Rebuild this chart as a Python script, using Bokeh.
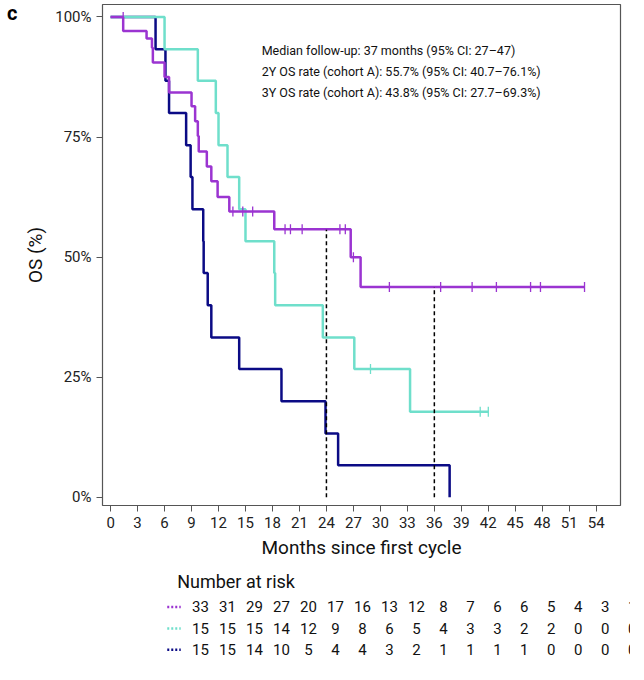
import math
from bokeh.plotting import figure
from bokeh.models import Label, FixedTicker, Range1d, Div
from bokeh.layouts import column
from bokeh.embed import file_html
from bokeh.resources import INLINE
from bokeh.core.properties import value

FONT = "Roboto"
C_PUR, C_TUR, C_NAV = "#9b34d1", "#6fdfcb", "#0b0b85"

# Kaplan-Meier step data (time of drop, survival after drop, %)
pur_t = [0, 1.4, 4.0, 4.6, 4.7, 6.0, 6.5, 9.0, 9.4, 9.7, 9.8, 10.7, 11.2, 11.9, 13.2, 18.2, 26.7, 27.8]
pur_s = [100, 97.1, 95.5, 93.6, 90.5, 87.5, 84.3, 81.4, 78.3, 75.2, 72.0, 68.9, 65.8, 62.5, 59.5, 55.8, 50.0, 43.8]
pur_end = 52.7
pur_cens_t = [1.4, 13.6, 14.7, 15.8, 19.4, 20.0, 21.3, 25.5, 26.1, 27.0, 31.0, 36.7, 40.2, 42.9, 46.7, 47.8, 52.7]
pur_cens_s = [100, 59.5, 59.5, 59.5, 55.8, 55.8, 55.8, 55.8, 55.8, 50.0, 43.8, 43.8, 43.8, 43.8, 43.8, 43.8, 43.8]

tur_t = [0, 6.0, 9.7, 11.7, 12.0, 13.0, 14.3, 15.0, 18.2, 18.3, 23.6, 27.1, 33.3]
tur_s = [100, 93.3, 86.7, 80.0, 73.3, 66.7, 60.0, 53.3, 46.7, 40.0, 33.3, 26.7, 17.8]
tur_end = 42.0
tur_cens_t = [28.9, 41.1, 42.0]
tur_cens_s = [26.7, 17.8, 17.8]

nav_t = [0, 5.0, 6.1, 6.5, 8.4, 8.9, 9.1, 10.3, 10.35, 10.8, 11.2, 14.3, 19.0, 23.9, 25.3, 37.7]
nav_s = [100, 93.3, 86.7, 80.0, 73.3, 66.7, 60.0, 53.3, 46.7, 40.0, 33.3, 26.7, 20.0, 13.3, 6.7, 0.0]
nav_end = 37.7

risk_times = list(range(0, 55, 3))
risk_pur = [33, 31, 29, 27, 20, 17, 16, 13, 12, 8, 7, 6, 6, 5, 4, 3, 1, 1, 0]
risk_tur = [15, 15, 15, 14, 12, 9, 8, 6, 5, 4, 3, 3, 2, 2, 0, 0, 0, 0, 0]
risk_nav = [15, 15, 14, 10, 5, 4, 4, 3, 2, 1, 1, 1, 1, 0, 0, 0, 0, 0, 0]

notes = ["Median follow-up: 37 months (95% CI: 27\u201347)",
         "2Y OS rate (cohort A): 55.7% (95% CI: 40.7\u201376.1%)",
         "3Y OS rate (cohort A): 43.8% (95% CI: 27.7\u201369.3%)"]

p = figure(frame_width=518, frame_height=501, output_backend="svg", toolbar_location=None,
           x_range=Range1d(-0.9, 56.7), y_range=Range1d(-1.7, 102.6),
           min_border_left=102, min_border_right=10, min_border_top=4, min_border_bottom=62)
p.grid.visible = False
p.outline_line_color = "#555555"
p.outline_line_width = 1.2

for t, s, end, c in [(nav_t, nav_s, nav_end, C_NAV), (tur_t, tur_s, tur_end, C_TUR), (pur_t, pur_s, pur_end, C_PUR)]:
    xs = list(t) + [end]
    ys = list(s) + [s[-1]]
    p.step(xs, ys, mode="after", line_color=c, line_width=2.5)

p.scatter(tur_cens_t, tur_cens_s, marker="dash", angle=math.pi / 2, size=10, line_color=C_TUR, line_width=1.3)
p.scatter(pur_cens_t, pur_cens_s, marker="dash", angle=math.pi / 2, size=10, line_color=C_PUR, line_width=1.3)

p.segment([24, 36], [0, 0], [24, 36], [55.7, 43.8], line_color="black", line_dash="4 3", line_width=1.5)

p.xaxis.ticker = FixedTicker(ticks=risk_times)
p.yaxis.ticker = FixedTicker(ticks=[0, 25, 50, 75, 100])
p.yaxis.major_label_overrides = {0: "0%", 25: "25%", 50: "50%", 75: "75%", 100: "100%"}
p.xaxis.axis_label = "Months since first cycle"
p.yaxis.axis_label = "OS (%)"
for ax in [p.xaxis, p.yaxis]:
    ax.axis_label_text_font = FONT
    ax.axis_label_text_font_style = "normal"
    ax.axis_label_text_font_size = "19px"
    ax.axis_label_text_color = "#111111"
    ax.major_label_text_font = FONT
    ax.major_label_text_font_size = "15px"
    ax.major_label_text_color = "#222222"
    ax.minor_tick_line_color = None
    ax.axis_line_color = None
    ax.major_tick_out = 6
    ax.major_tick_in = 0
    ax.major_tick_line_color = "#555555"

for i, n in enumerate(notes):
    p.add_layout(Label(x=16.8, y=93.0 - i * 4.4, text=n, text_font=FONT, text_font_size="12.5px",
                       text_color="#111111", text_baseline="middle"))

r = figure(frame_width=608, frame_height=92, output_backend="svg", toolbar_location=None,
           x_range=Range1d(-10.9, 56.7), y_range=Range1d(0, 4.2),
           min_border_left=12, min_border_right=10, min_border_top=0, min_border_bottom=0)
r.axis.visible = False
r.grid.visible = False
r.outline_line_color = None
r.text([-2.6], [3.55], text=["Number at risk"], text_font=value(FONT), text_font_size="18px",
       text_baseline="middle", text_color="#111111")
for row, (vals, c) in enumerate([(risk_pur, C_PUR), (risk_tur, C_TUR), (risk_nav, C_NAV)]):
    yy = 2.4 - row * 0.98
    r.segment([-3.7], [yy], [-2.2], [yy], line_color=c, line_width=2.5, line_dash="2 2")
    r.text(risk_times, [yy] * len(vals), text=[str(v) for v in vals], text_font=value(FONT),
           text_font_size="15px", text_align="center", text_baseline="middle", text_color="#111111")

tag = Div(text="<b style='font-family:Roboto;font-size:20px'>c</b>", width=20, height=0,
          styles={"position": "absolute", "left": "2px", "top": "-6px", "z-index": "10"})

open("out.html", "w").write(file_html(column(tag, p, r, spacing=0), INLINE))
